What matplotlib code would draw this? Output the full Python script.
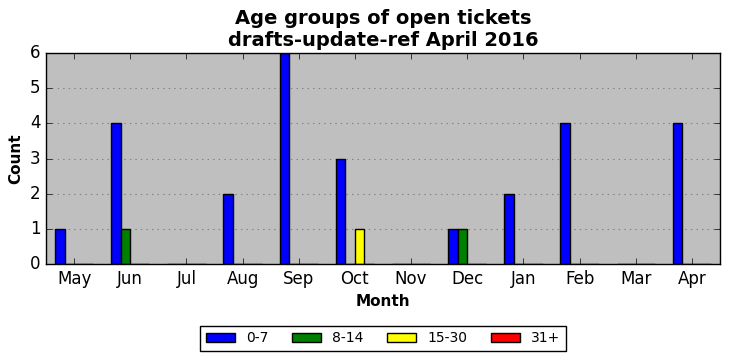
import matplotlib
matplotlib.use("Agg")
import matplotlib.pyplot as plt
import numpy as np

months = ["May", "Jun", "Jul", "Aug", "Sep", "Oct", "Nov", "Dec", "Jan", "Feb", "Mar", "Apr"]
groups = ["0-7", "8-14", "15-30", "31+"]
age_0_7 = [1, 4, 0, 2, 6, 3, 0, 1, 2, 4, 0, 4]
age_8_14 = [0, 1, 0, 0, 0, 0, 0, 1, 0, 0, 0, 0]
age_15_30 = [0, 0, 0, 0, 0, 1, 0, 0, 0, 0, 0, 0]
age_31 = [0, 0, 0, 0, 0, 0, 0, 0, 0, 0, 0, 0]
colors = ["blue", "green", "yellow", "red"]

plt.style.use("classic")
fig = plt.figure(figsize=(7.31, 3.61), dpi=100)
ax = fig.add_axes([46 / 731, 1 - 264 / 361, (720 - 46) / 731, (264 - 53) / 361])
ax.set_facecolor("#bfbfbf")

x = np.arange(len(months))
w = 0.17
for k, (vals, lab, col) in enumerate(zip([age_0_7, age_8_14, age_15_30, age_31], groups, colors)):
    ax.bar(x + (k - 2) * w, vals, w, align="edge", color=col,
           edgecolor="black", linewidth=1.0, label=lab, zorder=2)

ax.set_xlim(-0.5, 11.5)
ax.set_ylim(0, 6)
ax.set_xticks(x)
ax.set_xticklabels(months, fontsize=12)
ax.set_yticks(range(7))
ax.tick_params(axis="y", labelsize=12)
ax.yaxis.grid(True, linestyle=":", color="gray", linewidth=0.8, zorder=1)
ax.set_axisbelow(True)
ax.set_xlabel("Month", fontweight="bold", fontsize=11)
ax.set_ylabel("Count", fontweight="bold", fontsize=11)
ax.set_title("Age groups of open tickets\ndrafts-update-ref April 2016",
             fontweight="bold", fontsize=14)

ax.legend(loc="upper center", bbox_to_anchor=(0.5, -0.26), ncol=4,
          fontsize=10, frameon=True, fancybox=False, handlelength=2.1,
          handleheight=0.7, handletextpad=0.8, columnspacing=1.7, borderpad=0.4)

fig.savefig("out.png", dpi=100)
